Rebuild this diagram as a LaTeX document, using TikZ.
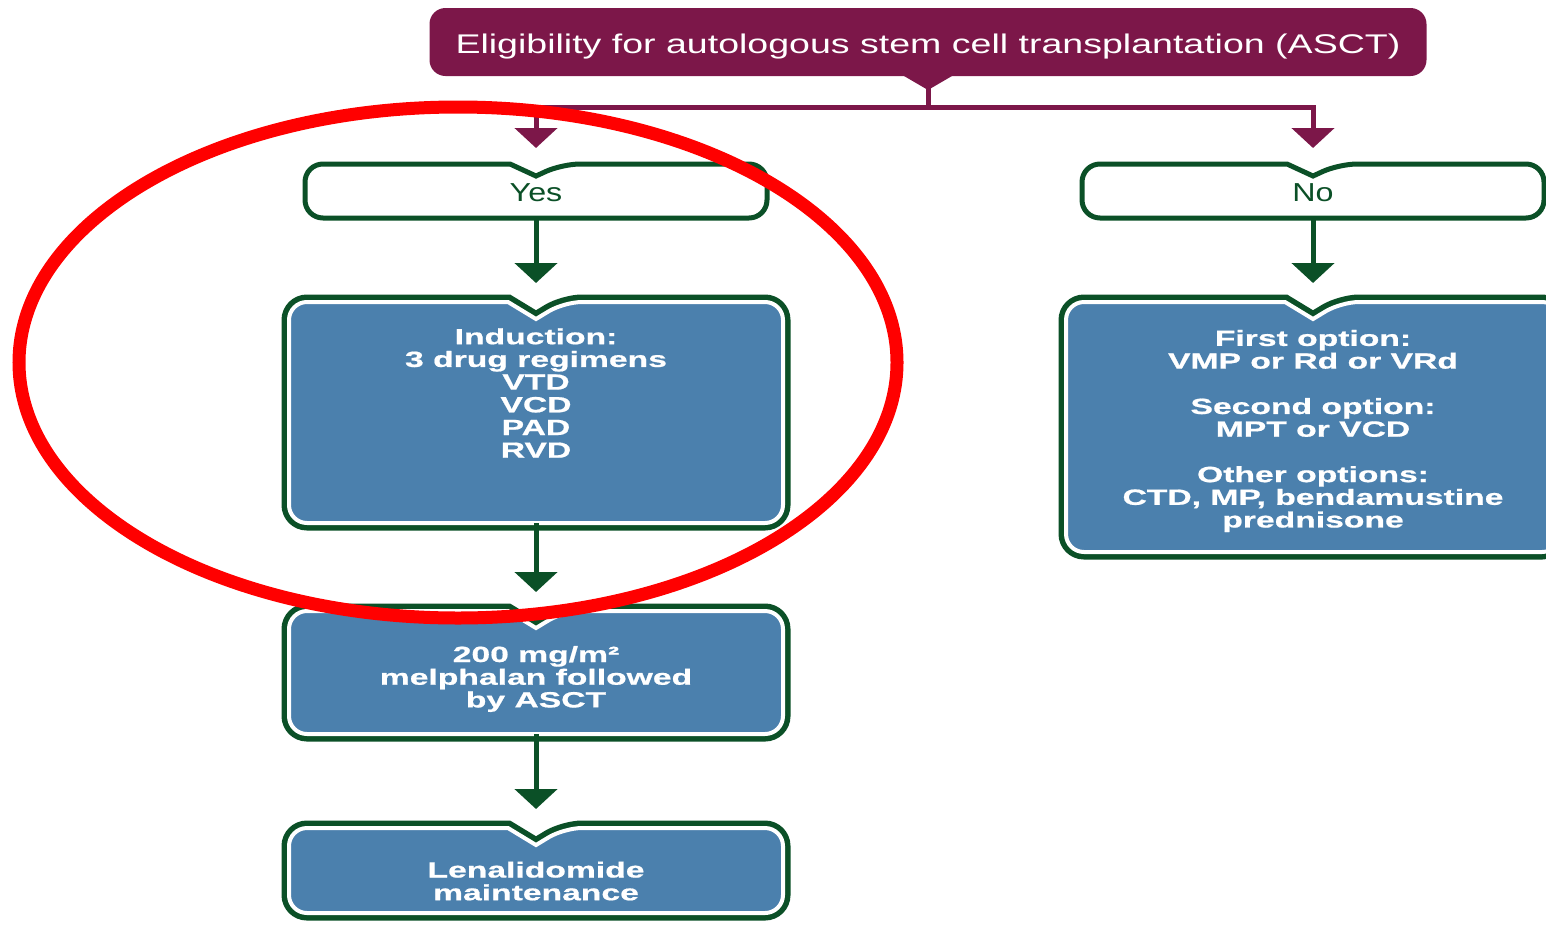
\documentclass[tikz,border=0pt]{standalone}
\usepackage{fontspec}
\setmainfont{Liberation Sans}
\newfontfamily\titlefont[FakeStretch=1.39]{Liberation Sans}
\newfontfamily\choicefont[FakeStretch=1.24]{Liberation Sans}
\newfontfamily\boxfont[FakeStretch=1.53,BoldFeatures={FakeBold=0.8}]{Liberation Sans}
\usetikzlibrary{arrows.meta,calc}
\pgfdeclarelayer{background}
\pgfsetlayers{background,main}

\definecolor{ascmagenta}{RGB}{124,23,73}
\definecolor{ascgreen}{RGB}{11,80,39}
\definecolor{ascblue}{RGB}{75,128,173}

% Kasten mit Kerbe oben: Knoten, halbe Kerbbreite, Kerbtiefe
\newcommand{\kerbpath}[3]{[rounded corners=18pt] ($(#1.north)+(-#2,0pt)$) -- (#1.north west) -- (#1.south west) -- (#1.south east) -- (#1.north east) -- ($(#1.north)+(#2,0pt)$) [sharp corners] -- ($(#1.north)+(0pt,-#3)$) -- cycle}

\tikzset{
  titlebox/.style={fill=ascmagenta,rounded corners=16pt,inner sep=0pt,outer sep=0pt,
    minimum width=997pt,minimum height=68pt,text height=23.4pt,text depth=0pt,
    text=white,font=\titlefont\fontsize{27}{30}\selectfont},
  choicebox/.style={inner sep=0pt,outer sep=0pt,minimum width=462pt,minimum height=54pt,
    text height=21pt,text depth=0pt,text=ascgreen,font=\choicefont\fontsize{26}{28}\selectfont},
  kerbspot/.style={inner sep=0pt,outer sep=0pt,minimum width=494pt},
  boxtext/.style={text=white,align=center,font=\boxfont\bfseries\fontsize{22}{22.7}\selectfont},
  magline/.style={draw=ascmagenta,line width=5pt},
  magarrow/.style={magline,-{Triangle[width=42pt,length=20pt]},shorten >=16pt},
  greenarrow/.style={draw=ascgreen,line width=5pt,-{Triangle[width=42pt,length=20pt]},shorten >=19pt},
  redring/.style={draw=red,line width=13pt}
}

\begin{document}
\begin{tikzpicture}[x=1pt,y=-1pt]
\useasboundingbox (0,0) rectangle (1546,924);

% Titel
\node[titlebox] (title) at (928,42) {Eligibility for autologous stem cell transplantation (ASCT)};
\fill[ascmagenta] ($(title.south)+(-24pt,0pt)$) -- ($(title.south)+(0pt,-14pt)$) -- ($(title.south)+(24pt,0pt)$) -- cycle;

% Ja / Nein
\node[choicebox] (yes) at (536,191) {Yes};
\node[choicebox] (no) at (1313,191) {No};
\begin{pgfonlayer}{background}
\foreach \n in {yes,no}
  \draw[draw=ascgreen,fill=white,line width=5pt] \kerbpath{\n}{26pt}{12pt};
\end{pgfonlayer}

% Therapiekaesten
\node[kerbspot,minimum height=221pt] (ind) at (536,412.5) {};
\node[kerbspot,minimum height=123pt] (mel) at (536,672.5) {};
\node[kerbspot,minimum height=85pt] (len) at (536,870.5) {};
\node[kerbspot,minimum height=250pt] (opts) at (1313,427) {};
\foreach \n in {ind,mel,len,opts}{
  \draw[draw=ascgreen,line width=15pt] \kerbpath{\n}{28pt}{17pt};
  \draw[draw=white,fill=ascblue,line width=4pt] \kerbpath{\n}{28pt}{17pt};
}

\node[boxtext] (indtext) at (536,393) {Induction:\\3 drug regimens\\VTD\\VCD\\PAD\\RVD};
\node[boxtext] (meltext) at (536,679) {200 mg/m²\\melphalan followed\\by ASCT};
\node[boxtext] (lentext) at (536,881) {Lenalidomide\\maintenance};
\node[boxtext] (optstext) at (1313,431) {First option:\\VMP or Rd or VRd\\[22.7pt]Second option:\\MPT or VCD\\[22.7pt]Other options:\\CTD, MP, bendamustine\\prednisone};

% Pfeile
\draw[magline] (title.south) -- ++(0,31) coordinate (split);
\draw[magarrow] (split) -| (yes.north);
\draw[magarrow] (split) -| (no.north);
\draw[greenarrow] (yes.south) -- (ind.north);
\draw[greenarrow] (ind.south) -- (mel.north);
\draw[greenarrow] (mel.south) -- (len.north);
\draw[greenarrow] (no.south) -- (opts.north);

% Markierung
\draw[redring] (458,362.5) ellipse [x radius=439pt,y radius=255.5pt];
\end{tikzpicture}
\end{document}
